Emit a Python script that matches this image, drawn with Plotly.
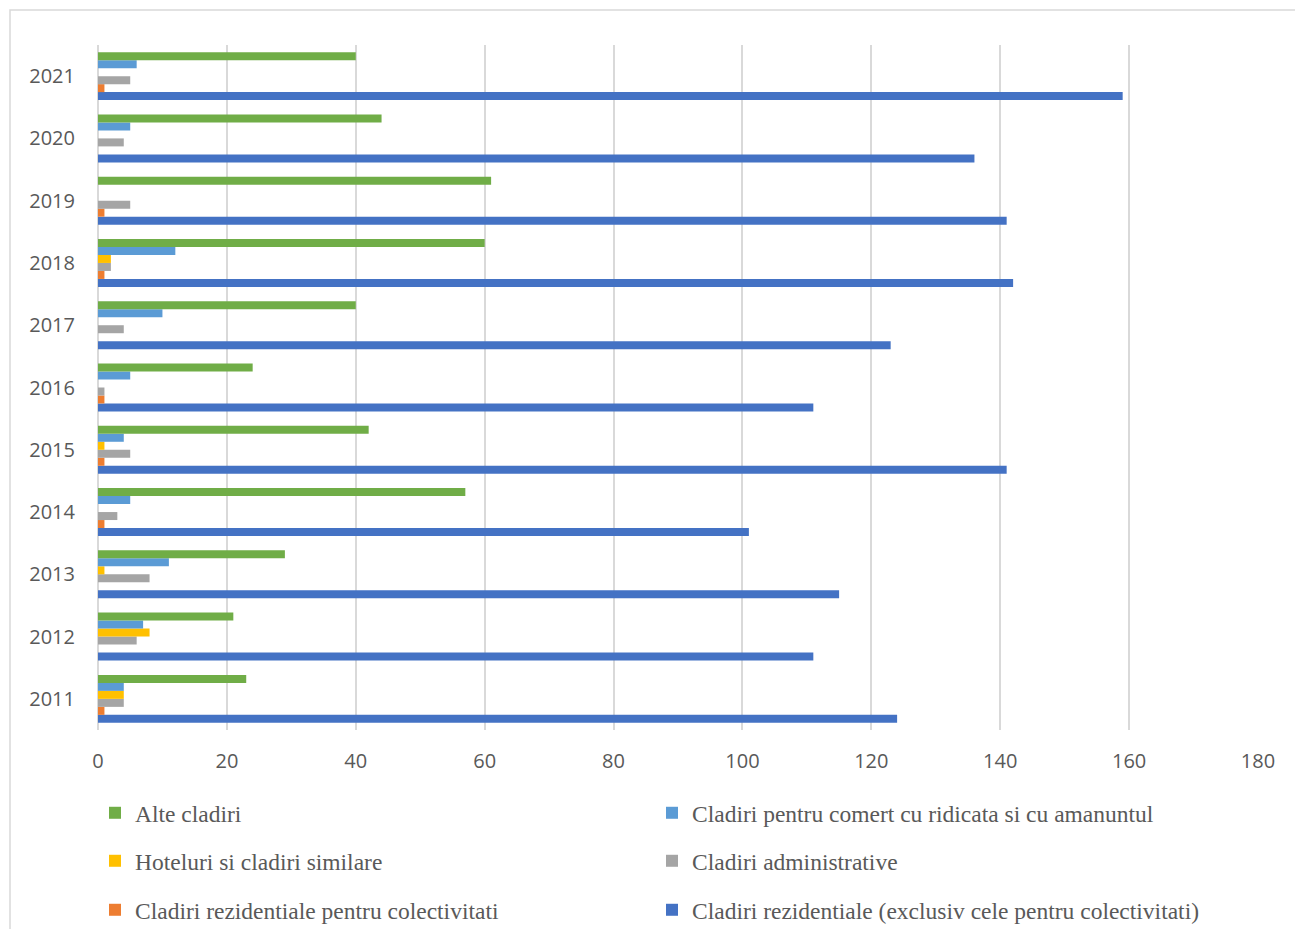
import plotly.graph_objects as go

years = ["2011", "2012", "2013", "2014", "2015", "2016", "2017", "2018", "2019", "2020", "2021"]

rezidentiale = [124, 111, 115, 101, 141, 111, 123, 142, 141, 136, 159]
colectivitati = [1, 0, 0, 1, 1, 1, 0, 1, 1, 0, 1]
administrative = [4, 6, 8, 3, 5, 1, 4, 2, 5, 4, 5]
hoteluri = [4, 8, 1, 0, 1, 0, 0, 2, 0, 0, 0]
comert = [4, 7, 11, 5, 4, 5, 10, 12, 0, 5, 6]
alte = [23, 21, 29, 57, 42, 24, 40, 60, 61, 44, 40]

series = [
    ("Cladiri rezidentiale (exclusiv cele pentru colectivitati)", rezidentiale, "#4472C4", "legend3"),
    ("Cladiri rezidentiale pentru colectivitati", colectivitati, "#ED7D31", "legend3"),
    ("Cladiri administrative", administrative, "#A5A5A5", "legend2"),
    ("Hoteluri si cladiri similare", hoteluri, "#FFC000", "legend2"),
    ("Cladiri pentru comert cu ridicata si cu amanuntul", comert, "#5B9BD5", "legend"),
    ("Alte cladiri", alte, "#70AD47", "legend"),
]

fig = go.Figure()
for name, vals, color, lg in series:
    fig.add_trace(go.Bar(
        y=years, x=vals, name=name, orientation="h",
        marker=dict(color=color, line=dict(width=0)),
        legend=lg, hoverinfo="x+name",
    ))

W, H = 1295, 929
L, R, T, B = 98, 37, 45, 199
plot_h = H - T - B
plot_w = W - L - R

def py(pix):
    return (H - B - pix) / plot_h

def cy(pix):
    return 1 - pix / H

legfont = dict(family="Liberation Serif", size=23.5, color="#595959")
legcommon = dict(orientation="h", traceorder="reversed", font=legfont,
                 entrywidth=512, entrywidthmode="pixels",
                 xref="container", x=95 / W, xanchor="left",
                 yref="container", yanchor="middle",
                 bgcolor="rgba(0,0,0,0)", itemclick=False)

fig.update_layout(
    width=W, height=H,
    margin=dict(l=L, r=R, t=T, b=B, autoexpand=False),
    paper_bgcolor="white", plot_bgcolor="white",
    barmode="group", bargap=0.23, bargroupgap=0,
    font=dict(family="Open Sans", size=20, color="#595959"),
    xaxis=dict(range=[0, 180], dtick=20, tick0=0, showgrid=True, gridcolor="#D9D9D9",
               gridwidth=1.5, zeroline=True, zerolinecolor="#D9D9D9", zerolinewidth=1.5,
               showline=False, ticks="", ticklabelstandoff=17,
               tickfont=dict(family="Open Sans", size=20, color="#595959")),
    yaxis=dict(categoryorder="array", categoryarray=years, showgrid=False, zeroline=False,
               showline=False, ticks="", ticklabelstandoff=22,
               tickfont=dict(family="Open Sans", size=20, color="#595959")),
    legend=dict(**legcommon, y=cy(813)),
    legend2=dict(**legcommon, y=cy(861)),
    legend3=dict(**legcommon, y=cy(910)),
    showlegend=True,
)

fig.add_shape(type="rect", xref="paper", yref="paper",
              x0=(10 - L) / plot_w, x1=(1310 - L) / plot_w,
              y0=py(940), y1=py(10),
              line=dict(color="#D9D9D9", width=1.5), fillcolor="rgba(0,0,0,0)", layer="below")

fig.write_html("out.html")
